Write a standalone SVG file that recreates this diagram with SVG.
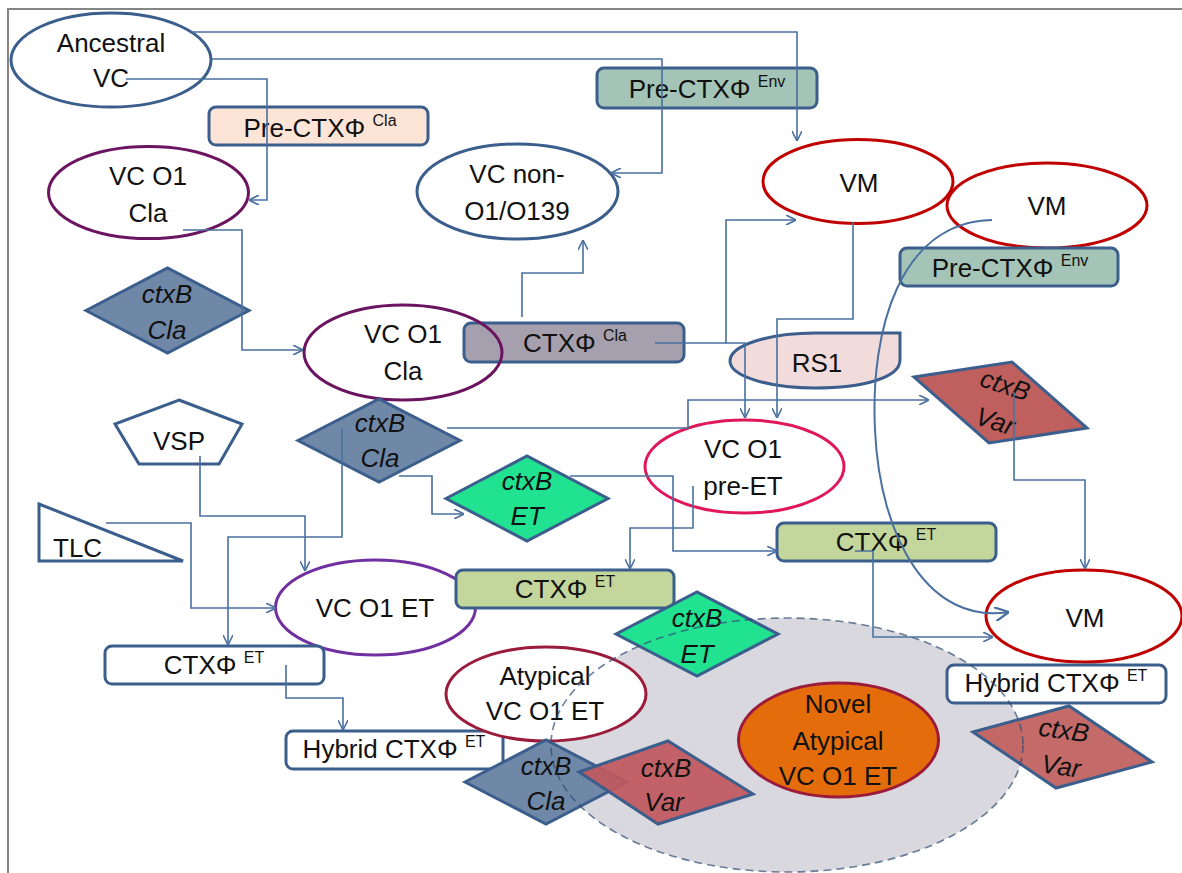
<svg xmlns="http://www.w3.org/2000/svg" width="1182" height="873" viewBox="0 0 1182 873">
<style>
text{font-family:"Liberation Sans",Arial,sans-serif;font-size:26px;fill:#111;text-anchor:middle}
.it{font-style:italic}
.sup{font-size:16px}
.box{stroke:#3b5e8c;stroke-width:3}
.blue{stroke:#3b5e8c;stroke-width:3}
.el{fill:#fff;stroke-width:3}
.dia{stroke:#3b5e8c;stroke-width:3}
.con{fill:none;stroke:#4a70a0;stroke-width:1.6}
</style>
<defs>
<marker id="arr" viewBox="0 0 10 10" refX="10" refY="5" markerWidth="10" markerHeight="10" markerUnits="userSpaceOnUse" orient="auto">
<path d="M0,0 L10,5 L0,10" fill="none" stroke="#4a70a0" stroke-width="1.6"/>
</marker>
<marker id="arrBig" viewBox="0 0 10 10" refX="10" refY="5" markerWidth="14" markerHeight="14" markerUnits="userSpaceOnUse" orient="auto">
<path d="M0,0 L10,5 L0,10" fill="none" stroke="#4a70a0" stroke-width="1.6"/>
</marker>
</defs>
<rect width="1182" height="873" fill="#fff"/>
<path d="M8,873 V9 H1182" fill="none" stroke="#858585" stroke-width="2"/>

<g id="region-fill"><ellipse cx="787" cy="745" rx="236" ry="127" fill="#d8d8de"/></g>

<g id="ancestral-vc"><ellipse class="el" cx="111" cy="60" rx="100" ry="47" stroke="#3b5e8c"/><text x="111" y="52">Ancestral</text><text x="111" y="87">VC</text></g>
<g id="pre-ctx-cla"><rect class="box" x="209" y="107" width="219" height="38" rx="7" fill="#fce4d6"/><text x="320" y="137">Pre-CTXΦ <tspan class="sup" dy="-11">Cla</tspan></text></g>
<g id="vc-o1-cla-top"><ellipse class="el" cx="148.5" cy="192.5" rx="100" ry="46" stroke="#6b1561"/><text x="148" y="185">VC O1</text><text x="148" y="222">Cla</text></g>
<g id="pre-ctx-env-top"><rect class="box" x="597" y="68" width="220" height="40" rx="7" fill="#a3c4b6"/><text x="707" y="98">Pre-CTXΦ <tspan class="sup" dy="-11">Env</tspan></text></g>
<g id="vc-non-o1"><ellipse class="el" cx="517.5" cy="191.5" rx="100.5" ry="47.5" stroke="#3b5e8c"/><text x="517" y="183">VC non-</text><text x="517" y="220">O1/O139</text></g>
<g id="vm-top"><ellipse class="el" cx="858" cy="181.5" rx="95" ry="42" stroke="#c00000"/><text x="859" y="192">VM</text></g>
<g id="vm-2"><ellipse class="el" cx="1047" cy="205.5" rx="100" ry="42.5" stroke="#c00000"/><text x="1047" y="215">VM</text></g>
<g id="pre-ctx-env-2"><rect class="box" x="900" y="248" width="218" height="38" rx="7" fill="#a3c4b6"/><text x="1010" y="277">Pre-CTXΦ <tspan class="sup" dy="-11">Env</tspan></text></g>
<g id="ctxb-cla-left"><polygon class="dia" points="86,310.5 167.5,268 249,310.5 167.5,353" fill="#7088a8"/><text class="it" x="167" y="303">ctxB</text><text class="it" x="167" y="339">Cla</text></g>
<g id="ctx-cla"><rect class="box" x="464" y="323" width="220" height="39" rx="7" fill="#a6a0ae"/><text x="575" y="352">CTXΦ <tspan class="sup" dy="-11">Cla</tspan></text></g>
<g id="vc-o1-cla-mid"><ellipse cx="403" cy="352.5" rx="99" ry="47.5" fill="none" stroke="#6b1561" stroke-width="3"/><text x="403" y="343">VC O1</text><text x="403" y="380">Cla</text></g>
<g id="rs1"><path class="blue" d="M815,333 H900 V360 C900,378 862,388 815,388 C768,388 730,376 730,361 C730,345 770,333 815,333 Z" fill="#f2dcdb"/><text x="817" y="372">RS1</text></g>
<g id="vsp"><polygon class="blue" points="179,400 242,424 219,464 139,464 115,424" fill="#fff"/><text x="179" y="450">VSP</text></g>
<g id="ctxb-cla-mid"><polygon class="dia" points="298,440.5 379,399 460,440.5 379,482" fill="#7088a8"/><text class="it" x="380" y="432">ctxB</text><text class="it" x="380" y="467">Cla</text></g>
<g id="vc-o1-pre-et"><ellipse class="el" cx="744.5" cy="466.5" rx="99.5" ry="46.5" stroke="#e0185a"/><text x="743" y="458">VC O1</text><text x="743" y="495">pre-ET</text></g>
<g id="ctxb-var-upper"><polygon class="dia" points="914,377 1012,362 1087,428 989,443" fill="#c0605e"/><text class="it" x="1005" y="394" transform="rotate(18 1005 386)">ctxB</text><text class="it" x="995" y="430" transform="rotate(18 995 422)">Var</text></g>
<g id="ctxb-et-mid"><polygon class="dia" points="446,498.5 527,456 608,498.5 527,541" fill="#20e291"/><text class="it" x="527" y="490">ctxB</text><text class="it" x="527" y="525">ET</text></g>
<g id="tlc"><polygon class="blue" points="39,504 39,561 183,561" fill="#fff"/><text x="53" y="557" style="text-anchor:start">TLC</text></g>
<g id="ctx-et-right"><rect class="box" x="777" y="523" width="219" height="38" rx="7" fill="#c3d69b"/><text x="886" y="551">CTXΦ <tspan class="sup" dy="-11">ET</tspan></text></g>
<g id="vc-o1-et"><ellipse class="el" cx="375.5" cy="607.5" rx="100" ry="47.5" stroke="#7030a0"/><text x="375" y="617">VC O1 ET</text></g>
<g id="ctx-et-mid"><rect class="box" x="456" y="570" width="218" height="38" rx="7" fill="#c3d69b"/><text x="565" y="598">CTXΦ <tspan class="sup" dy="-11">ET</tspan></text></g>
<g id="vm-bottom"><ellipse class="el" cx="1084" cy="616" rx="98" ry="46" stroke="#c00000"/><text x="1085" y="627">VM</text></g>
<g id="ctx-et-white"><rect class="box" x="105" y="646" width="219" height="38" rx="7" fill="#fff"/><text x="214" y="674">CTXΦ <tspan class="sup" dy="-11">ET</tspan></text></g>
<g id="hybrid-left"><rect class="box" x="286" y="731" width="217" height="38" rx="7" fill="#fff"/><text x="394" y="758">Hybrid CTXΦ <tspan class="sup" dy="-11">ET</tspan></text></g>
<g id="atypical"><ellipse class="el" cx="546" cy="694" rx="100" ry="47" stroke="#9b1b3b"/><text x="545" y="685">Atypical</text><text x="545" y="720">VC O1 ET</text></g>
<g id="ctxb-et-lower"><polygon class="dia" points="616,634 697,592 778,634 697,676" fill="#20e291"/><text class="it" x="697" y="627">ctxB</text><text class="it" x="697" y="663">ET</text></g>
<g id="ctxb-cla-lower"><polygon class="dia" points="465,782 546,740 627,782 546,824" fill="#7088a8"/><text class="it" x="546" y="775">ctxB</text><text class="it" x="546" y="810">Cla</text></g>
<g id="ctxb-var-lower"><polygon class="dia" points="579,772 668,741 753,794 658,824" fill="#c0585f" fill-opacity="0.93"/><text class="it" x="666" y="777">ctxB</text><text class="it" x="664" y="811">Var</text></g>
<g id="novel"><ellipse cx="838.5" cy="740" rx="100" ry="57" fill="#e46c0a" stroke="#9b1b3b" stroke-width="3"/><text x="838" y="713">Novel</text><text x="838" y="750">Atypical</text><text x="838" y="785">VC O1 ET</text></g>
<g id="hybrid-right"><rect class="box" x="947" y="665" width="219" height="38" rx="7" fill="#fff"/><text x="1056" y="692">Hybrid CTXΦ <tspan class="sup" dy="-11">ET</tspan></text></g>
<g id="ctxb-var-lower-right"><polygon class="dia" points="973,732 1069,706 1152,762 1056,788" fill="#c0605e" fill-opacity="0.93"/><text class="it" x="1064" y="739" transform="rotate(8 1064 730)">ctxB</text><text class="it" x="1061" y="775" transform="rotate(8 1061 766)">Var</text></g>

<g id="region-outline"><ellipse cx="787" cy="745" rx="236" ry="127" fill="none" stroke="#2e4a70" stroke-width="1.6" stroke-dasharray="8,5" stroke-opacity="0.7"/></g>

<g id="connectors">
<path class="con" marker-end="url(#arr)" d="M126,79 H267 V200 H249"/>
<path class="con" marker-end="url(#arr)" d="M191,32 H797 V141"/>
<path class="con" marker-end="url(#arr)" d="M211,59 H662 V173 H611"/>
<path class="con" marker-end="url(#arr)" d="M183,230 H242 V350 H303"/>
<path class="con" marker-end="url(#arr)" d="M522,317 V273 H583 V240"/>
<path class="con" marker-end="url(#arr)" d="M655,343 H726 V220 H796"/>
<path class="con" marker-end="url(#arr)" d="M726,343 H745 V418"/>
<path class="con" marker-end="url(#arr)" d="M853,222 V319 H777 V418"/>
<path class="con" marker-end="url(#arr)" d="M447,428 H688 V400 H929"/>
<path class="con" marker-end="url(#arr)" d="M399,476 H432 V514 H464"/>
<path class="con" marker-end="url(#arr)" d="M342,428 V537 H228 V645"/>
<path class="con" marker-end="url(#arr)" d="M200,456 V516 H305 V571"/>
<path class="con" marker-end="url(#arr)" d="M106,523 H191 V608 H276"/>
<path class="con" marker-end="url(#arr)" d="M570,476 H673 V551 H777"/>
<path class="con" marker-end="url(#arr)" d="M693,486 V528 H630 V569"/>
<path class="con" marker-end="url(#arr)" d="M855,551 H873 V637 H993"/>
<path class="con" marker-end="url(#arr)" d="M1014,392 V480 H1085 V569"/>
<path class="con" marker-end="url(#arr)" d="M286,665 V698 H343 V730"/>
<path class="con" style="stroke-width:2" marker-end="url(#arrBig)" d="M992,220 C900,222 870,330 875,430 C880,540 930,625 1009,612"/>
</g>
</svg>
